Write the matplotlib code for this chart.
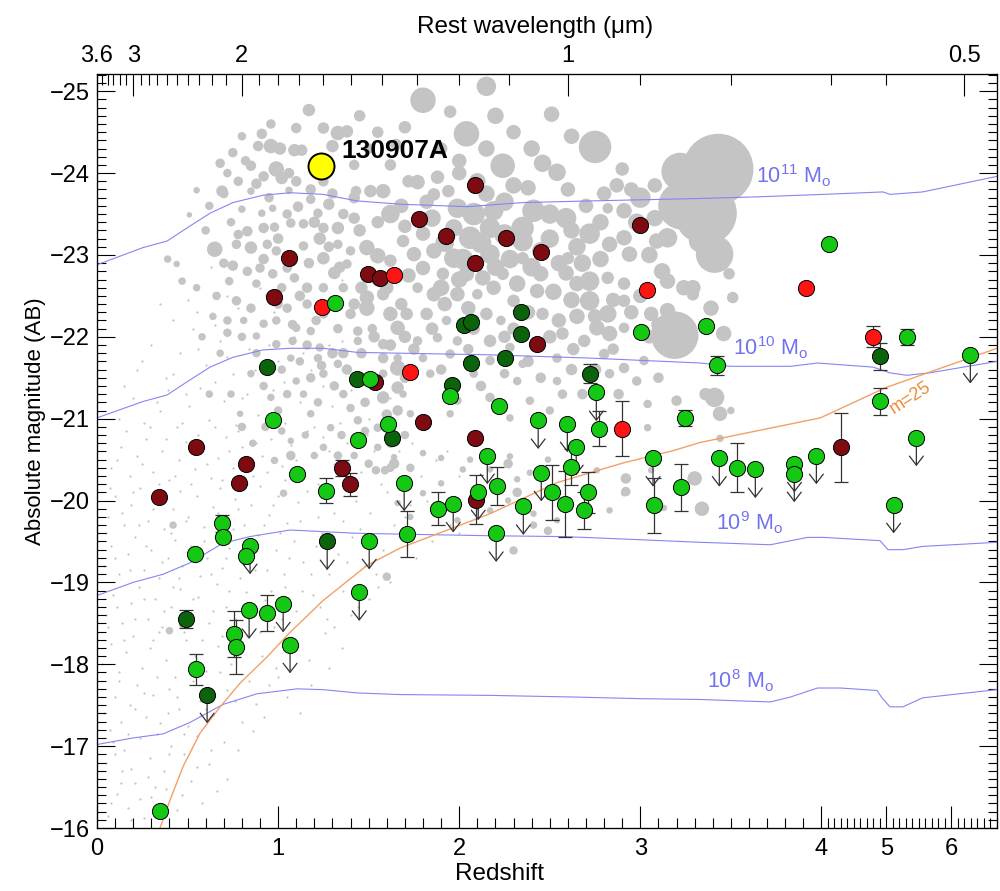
"""Absolute magnitude vs redshift of GRB hosts with the 130907A host highlighted."""
import numpy as np
import matplotlib
matplotlib.use("Agg")
import matplotlib.pyplot as plt
from matplotlib.ticker import FixedLocator, FixedFormatter, MultipleLocator, NullFormatter

plt.rcParams["font.family"] = ["Liberation Sans", "DejaVu Sans"]
plt.rcParams["mathtext.fontset"] = "custom"
plt.rcParams["mathtext.rm"] = "Liberation Sans"
plt.rcParams["mathtext.it"] = "Liberation Sans:italic"
plt.rcParams["mathtext.bf"] = "Liberation Sans:bold"
plt.rcParams["axes.unicode_minus"] = True

# ---------------------------------------------------------------- data
# GRB hosts: light green
g_z = [1.315, 1.508, 0.972, 1.608, 1.442, 1.950, 2.757, 2.221, 2.436, 2.597,
       2.773, 3.249, 2.646, 2.155, 3.070, 4.120, 3.006, 3.365, 3.425, 5.310,
       6.290, 4.900, 5.460, 3.436, 3.851, 3.972, 3.536, 3.635, 3.850, 5.110,
       1.105, 1.265, 1.696, 0.691, 0.696, 0.541, 0.845, 0.823, 1.503, 1.448,
       0.840, 0.939, 1.028, 0.757, 0.768, 1.066, 0.547, 0.348, 1.713, 1.884,
       1.967, 2.105, 2.210, 2.204, 2.354, 2.453, 2.514, 2.586, 2.619, 2.713,
       2.690, 3.077, 3.227]
g_mag = [-22.41, -21.49, -20.99, -20.94, -20.74, -21.28, -21.32, -21.15, -20.98, -20.94,
         -20.88, -21.01, -20.66, -20.55, -20.52, -23.13, -22.06, -22.13, -21.65, -22.00,
         -21.78, -21.21, -20.77, -20.52, -20.45, -20.55, -20.40, -20.38, -20.33, -19.95,
         -20.32, -20.12, -20.22, -19.72, -19.56, -19.35, -19.45, -19.32, -19.51, -18.88,
         -18.66, -18.63, -18.74, -18.37, -18.21, -18.24, -17.94, -16.21, -19.59, -19.90,
         -19.96, -20.11, -20.18, -19.60, -19.93, -20.34, -20.10, -19.96, -20.41, -20.10,
         -19.88, -19.94, -20.16]
g_err = [0, 0, 0, 0, 0, 0, 0, 0, 0, 0,
         0.21, 0.10, 0, 0, 0, 0, 0, 0, 0.12, 0.10,
         0, 0.17, 0, 0, 0, 0, 0.30, 0, 0, 0,
         0, 0.15, 0, 0.10, 0, 0, 0, 0, 0, 0,
         0, 0.22, 0, 0.28, 0.33, 0, 0.19, 0, 0.28, 0.20,
         0, 0, 0.23, 0, 0, 0, 0.34, 0.40, 0.22, 0.25,
         0.23, 0.34, 0.29]
g_lim = [0, 0, 0, 0, 0, 0, 1, 0, 1, 1,
         0, 0, 1, 1, 1, 0, 0, 0, 0, 0,
         1, 0, 1, 1, 1, 1, 0, 1, 1, 1,
         0, 0, 1, 0, 0, 0, 1, 0, 1, 1,
         1, 0, 1, 0, 0, 1, 0, 0, 0, 0,
         1, 1, 0, 1, 1, 1, 0, 0, 0, 0,
         0, 0, 0]

# GRB hosts: dark green
dg_z = [0.939, 1.436, 1.630, 2.343, 2.028, 2.066, 2.343, 2.066, 2.254, 2.724,
        1.961, 4.900, 1.271, 0.492, 0.608]
dg_mag = [-21.63, -21.49, -20.76, -22.30, -22.15, -22.18, -22.04, -21.68, -21.74, -21.55,
          -21.41, -21.76, -19.50, -18.55, -17.63]
dg_err = [0, 0, 0, 0, 0, 0, 0, 0, 0, 0.12, 0, 0.16, 0, 0.11, 0]
dg_lim = [0, 0, 0, 0, 0, 0, 0, 0, 0, 0, 0, 0, 1, 0, 1]

# GRB hosts: dark red
dr_z = [1.061, 1.497, 1.564, 0.978, 1.536, 0.547, 0.343, 0.823, 0.785, 1.354,
        1.398, 2.088, 1.779, 1.928, 2.260, 2.453, 2.088, 3.000, 2.431, 1.800,
        2.088, 2.094, 4.305]
dr_mag = [-22.96, -22.77, -22.72, -22.49, -21.45, -20.65, -20.04, -20.45, -20.22, -20.40,
          -20.20, -23.85, -23.44, -23.23, -23.21, -23.04, -22.90, -23.37, -21.91, -20.96,
          -20.77, -20.01, -20.65]
dr_err = [0, 0, 0, 0, 0, 0, 0, 0, 0, 0.10,
          0.14, 0, 0, 0, 0, 0, 0, 0, 0, 0,
          0, 0.30, 0.42]

# GRB hosts: red
r_z = [1.641, 1.243, 3.039, 1.729, 2.900, 3.917, 4.794]
r_mag = [-22.76, -22.37, -22.57, -21.57, -20.88, -22.60, -22.00]
r_err = [0, 0, 0, 0, 0.33, 0, 0.13]

grb_z = [1.238]
grb_mag = [-24.09]
grb_name = "130907A"

# field galaxies (z, M, symbol diameter in px)
field_bright = [
    (1.17, -24.77, 10), (0.91, -24.48, 8), (1.33, -24.49, 12), (1.38, -24.51, 10), (0.89, -24.33, 8),
    (0.96, -24.33, 12), (1.01, -24.30, 10), (1.09, -24.28, 10), (1.13, -24.28, 9), (1.30, -24.33, 10),
    (0.68, -24.12, 7), (0.85, -24.09, 8), (0.92, -23.96, 8), (0.99, -24.05, 13), (1.02, -23.94, 10),
    (0.55, -23.79, 4), (0.69, -23.78, 9), (0.85, -23.78, 5), (0.88, -23.87, 8), (1.06, -23.79, 5),
    (1.18, -23.68, 7), (1.28, -23.62, 9), (1.43, -23.78, 8), (1.51, -23.78, 10), (1.58, -23.78, 12),
    (1.62, -23.50, 16), (1.36, -23.50, 8), (0.51, -23.49, 3), (0.80, -23.56, 5), (0.91, -23.51, 5),
    (0.97, -23.57, 5), (1.11, -23.59, 8), (1.22, -23.51, 7), (0.83, -23.29, 8), (0.92, -23.33, 8),
    (0.98, -23.34, 7), (1.07, -23.39, 7), (1.14, -23.38, 7), (1.25, -23.33, 8), (1.33, -23.33, 10),
    (0.65, -23.07, 13), (0.39, -22.95, 5), (0.77, -23.13, 7), (0.85, -23.09, 10), (0.94, -23.13, 7),
    (0.99, -23.05, 7), (1.14, -23.11, 7), (1.23, -23.20, 10), (1.33, -23.13, 7), (1.40, -23.05, 7),
    (1.49, -23.09, 13), (1.55, -22.99, 13), (1.62, -22.93, 10), (0.44, -22.89, 4), (0.75, -22.87, 8),
    (0.83, -22.80, 7), (0.90, -22.84, 7), (0.97, -22.77, 7), (1.05, -22.84, 7), (1.17, -22.90, 8),
    (1.25, -22.96, 10), (1.31, -22.78, 10), (1.38, -22.89, 7), (0.47, -22.68, 5), (0.73, -22.68, 6),
    (0.88, -22.65, 6), (1.09, -22.72, 7), (1.16, -22.60, 8), (1.25, -22.60, 7), (1.36, -22.60, 7),
    (1.49, -22.48, 12), (1.58, -22.52, 10), (0.77, -22.44, 7), (0.85, -22.35, 7), (1.05, -22.35, 7),
    (1.16, -22.40, 7), (1.25, -22.28, 7), (1.40, -22.28, 8), (1.49, -22.35, 13), (1.62, -22.28, 12),
    (0.81, -22.20, 5), (0.92, -22.16, 6), (0.99, -22.20, 6), (1.10, -22.11, 6), (1.18, -22.07, 6),
    (1.33, -22.10, 7), (1.44, -22.07, 7), (1.52, -22.10, 7), (1.66, -22.11, 12), (0.88, -22.01, 5),
    (0.99, -21.91, 6), (1.08, -21.95, 6), (1.23, -21.87, 6), (1.44, -21.95, 6), (1.58, -21.91, 8),
    (1.07, -21.74, 5), (1.22, -21.74, 6), (1.33, -21.67, 6), (1.58, -21.74, 8), (1.66, -21.62, 13),
    (0.85, -21.55, 5), (1.10, -21.46, 5), (1.25, -21.55, 6), (1.58, -21.55, 6), (1.66, -21.38, 10),
    (0.96, -21.26, 5), (1.14, -21.30, 5), (1.36, -21.30, 6), (1.58, -21.26, 10), (1.40, -21.13, 6),
    (0.79, -21.06, 4), (1.18, -21.06, 5), (1.29, -20.89, 5), (1.44, -20.98, 6), (1.55, -20.89, 6),
    (1.66, -21.10, 8), (1.07, -20.73, 4), (1.25, -20.65, 5), (1.55, -20.65, 5),
    (0.72, -24.00, 6), (0.78, -23.90, 7), (0.74, -23.40, 6), (0.70, -22.90, 7), (0.66, -22.50, 6),
    (0.72, -22.20, 6), (0.68, -21.80, 5), (0.74, -21.30, 5), (0.80, -20.90, 6), (0.86, -20.70, 5),
    (0.93, -20.90, 6), (1.00, -21.10, 6), (0.95, -21.60, 7), (0.88, -21.80, 6), (0.80, -22.00, 6),
    (0.96, -22.50, 8), (1.02, -22.60, 7), (1.00, -23.20, 8), (1.05, -23.50, 7), (0.95, -23.70, 7),
    (1.10, -23.90, 8), (1.20, -24.10, 9), (1.25, -23.90, 8), (1.20, -23.40, 9), (1.28, -23.10, 8),
    (1.12, -22.50, 8), (1.21, -22.20, 7), (1.30, -22.40, 9), (1.30, -21.80, 8), (1.18, -21.50, 7),
    (1.05, -21.30, 6), (1.22, -21.20, 6), (1.31, -21.40, 7), (1.38, -21.60, 8), (1.46, -21.80, 8),
    (1.53, -22.00, 9), (1.46, -22.60, 10), (1.55, -22.70, 11), (1.45, -23.30, 10), (1.42, -23.70, 9),
    (1.55, -23.40, 10), (1.68, -23.60, 12), (1.72, -23.90, 10), (1.62, -24.10, 9), (1.50, -24.30, 8),
    (1.42, -24.10, 8), (1.60, -22.60, 11), (1.68, -22.40, 10), (1.70, -22.00, 10), (1.62, -21.90, 9),
    (1.70, -21.50, 8), (1.48, -21.20, 7), (1.35, -20.80, 6), (1.15, -20.80, 5), (1.42, -20.55, 5),
    (1.62, -20.70, 7), (1.70, -20.80, 6), (0.62, -21.30, 5), (0.58, -22.00, 5), (0.55, -22.60, 5),
    (0.60, -23.30, 6), (0.62, -23.60, 6), (0.75, -24.25, 7), (0.80, -24.45, 6),
    (0.70, -23.75, 7), (0.82, -24.15, 7), (0.78, -23.25, 7), (0.92, -22.95, 8), (1.00, -22.40, 7),
    (1.08, -22.15, 7), (1.16, -21.90, 7), (1.24, -21.65, 7), (1.36, -21.80, 8), (1.42, -22.40, 9),
    (1.34, -22.85, 9), (1.42, -23.45, 9), (1.30, -23.75, 8), (1.18, -23.80, 8), (1.06, -24.00, 8),
    (1.25, -24.55, 9), (1.10, -24.55, 8), (0.96, -24.60, 7), (1.45, -24.70, 9), (1.55, -24.50, 9),
    (1.65, -24.35, 9), (0.72, -22.05, 6), (0.64, -22.25, 5), (0.92, -21.40, 6), (1.02, -21.60, 6),
    (1.12, -21.70, 6), (1.02, -20.85, 5), (1.20, -20.55, 5), (1.33, -20.55, 6), (1.50, -20.45, 6),
    (1.48, -20.85, 6), (1.60, -21.05, 8), (1.62, -20.40, 6),
    (1.80, -24.89, 23), (2.15, -25.06, 17), (1.70, -24.56, 10), (2.04, -24.48, 23), (2.51, -24.72, 13),
    (2.75, -24.32, 30), (2.24, -24.09, 22), (2.46, -24.12, 15), (2.54, -24.01, 15), (1.77, -23.89, 12),
    (2.87, -23.85, 12), (1.86, -23.74, 10), (1.94, -23.78, 10), (1.99, -23.57, 17), (2.08, -23.50, 20),
    (2.19, -23.54, 17), (2.38, -23.82, 13), (2.41, -23.54, 20), (2.50, -23.50, 17), (2.59, -23.45, 18),
    (2.35, -23.33, 20), (1.97, -23.33, 15), (2.17, -23.33, 18), (2.06, -23.21, 20), (2.35, -23.17, 18),
    (1.80, -23.26, 12), (1.69, -23.17, 10), (1.75, -23.01, 12), (1.86, -23.05, 13), (1.97, -22.96, 17),
    (2.17, -23.01, 17), (2.35, -22.96, 10), (2.60, -22.96, 10), (2.72, -23.26, 18), (2.83, -23.13, 13),
    (2.91, -23.21, 13), (2.94, -23.01, 13), (2.82, -23.57, 8), (2.91, -23.54, 13), (3.00, -23.70, 18),
    (3.09, -23.17, 13), (3.15, -23.21, 17), (1.80, -22.84, 12), (1.91, -22.77, 10), (2.04, -22.77, 13),
    (2.13, -22.72, 13), (2.24, -22.77, 10), (2.45, -22.77, 13), (2.59, -22.78, 13), (2.72, -22.68, 17),
    (2.82, -22.72, 10), (2.91, -22.65, 10), (3.15, -22.68, 13), (3.24, -22.60, 13), (3.29, -22.52, 10),
    (1.77, -22.60, 8), (1.86, -22.52, 12), (1.99, -22.52, 12), (2.10, -22.52, 8), (2.19, -22.60, 12),
    (2.43, -22.56, 12), (2.30, -22.44, 10), (2.72, -22.44, 17), (2.82, -22.28, 15), (2.91, -22.44, 10),
    (3.06, -22.28, 12), (3.15, -22.32, 13), (3.22, -22.20, 8), (1.71, -22.28, 10), (1.82, -22.28, 10),
    (1.93, -22.20, 7), (2.15, -22.28, 10), (2.23, -22.20, 7), (2.46, -22.28, 10), (2.76, -22.11, 13),
    (2.83, -22.04, 13), (2.91, -22.11, 8), (1.77, -21.95, 7), (1.88, -21.99, 7), (1.99, -21.95, 7),
    (2.17, -21.95, 10), (2.28, -21.87, 7), (2.57, -22.04, 10), (2.69, -21.95, 10), (1.66, -21.74, 6),
    (1.80, -21.74, 6), (1.95, -21.79, 7), (2.17, -21.71, 7), (2.35, -21.67, 6), (2.54, -21.74, 7),
    (2.80, -21.79, 8), (2.91, -21.62, 8), (3.02, -21.71, 7), (1.84, -21.55, 6), (2.08, -21.55, 6),
    (2.32, -21.46, 6), (2.54, -21.46, 6), (2.83, -21.55, 7), (2.98, -21.46, 7), (1.69, -21.30, 5),
    (1.99, -21.22, 6), (2.17, -21.26, 7), (2.39, -21.22, 6), (2.57, -21.30, 7), (3.04, -21.18, 6),
    (3.20, -21.22, 8), (1.73, -21.06, 5), (1.95, -21.06, 5), (2.28, -21.01, 5), (2.50, -21.10, 6),
    (3.04, -20.89, 5),
    (1.85, -23.45, 15), (1.92, -23.15, 16), (2.02, -22.95, 18), (2.12, -23.15, 18), (2.25, -23.25, 18),
    (2.28, -22.95, 16), (2.40, -22.85, 16), (2.50, -23.20, 16), (2.65, -23.10, 15), (2.68, -22.90, 15),
    (2.78, -22.95, 14), (2.52, -22.55, 14), (2.62, -22.45, 14), (2.38, -22.30, 12), (2.55, -22.20, 12),
    (2.65, -22.25, 13), (2.05, -22.35, 12), (1.92, -22.40, 12), (2.30, -22.10, 10), (2.42, -21.90, 10),
    (2.63, -21.85, 10), (2.75, -21.60, 10), (2.05, -21.85, 8), (2.25, -21.55, 7), (2.45, -21.50, 8),
    (2.68, -21.30, 8), (2.88, -21.30, 8), (3.10, -21.50, 8), (3.05, -22.00, 11), (3.12, -22.80, 14),
    (3.05, -23.00, 14), (2.98, -23.40, 15), (2.70, -23.60, 12), (2.60, -23.80, 12), (2.30, -23.85, 14),
    (2.10, -23.90, 14), (2.00, -24.15, 12), (1.90, -24.30, 10), (2.30, -24.50, 12), (2.62, -24.45, 13),
    (2.90, -24.05, 11), (3.08, -23.85, 12), (2.20, -24.70, 14), (1.95, -24.75, 10),
    (1.72, -22.75, 12), (1.90, -22.60, 14), (2.00, -22.70, 14), (2.20, -22.85, 15), (2.32, -22.65, 14),
    (2.45, -23.05, 15), (2.55, -22.90, 14), (2.65, -22.65, 13), (2.85, -22.45, 12), (2.95, -22.30, 12),
    (2.75, -22.25, 12), (2.50, -22.00, 11), (2.25, -22.00, 10), (2.08, -22.10, 10), (1.85, -22.10, 10),
    (1.75, -21.85, 9), (1.90, -21.60, 8), (2.12, -21.40, 8), (2.38, -21.70, 9), (2.62, -21.60, 9),
    (2.85, -21.85, 9), (3.00, -22.50, 12), (3.10, -22.15, 12), (2.95, -23.80, 12), (2.80, -23.75, 12),
    (2.40, -24.30, 14), (2.15, -24.30, 14), (2.00, -24.00, 12), (1.88, -23.95, 11), (1.82, -23.65, 12),
    (1.70, -23.35, 11), (2.62, -23.30, 14), (2.78, -23.40, 14), (3.08, -23.45, 14), (2.25, -23.65, 16),
    (2.15, -23.75, 14),
    (3.43, -24.05, 68), (3.36, -23.51, 60), (3.23, -23.60, 45), (3.22, -24.02, 35), (3.41, -23.01, 35),
    (3.33, -23.17, 20), (3.19, -22.02, 45), (3.49, -22.77, 9), (3.51, -22.48, 9), (3.46, -22.04, 13),
    (3.39, -22.35, 13), (3.29, -22.60, 13), (3.41, -21.26, 17), (3.44, -21.06, 12), (3.36, -21.30, 10),
    (3.50, -21.10, 5), (3.44, -20.76, 5),
    (2.92, -20.27, 8), (2.92, -20.11, 7), (3.30, -20.27, 12), (3.34, -19.90, 12), (1.73, -20.40, 6),
    (2.27, -20.45, 7), (2.32, -20.10, 7), (2.49, -19.63, 6), (2.30, -19.39, 6), (2.41, -19.70, 5),
    (1.07, -20.55, 7), (0.98, -20.49, 5), (1.03, -20.09, 5), (0.42, -19.70, 5), (1.64, -20.45, 8),
    (1.59, -20.37, 6), (1.54, -20.37, 6), (1.60, -19.07, 6), (0.40, -18.41, 5), (0.47, -18.48, 4),
    (1.64, -20.53, 4), (1.80, -20.58, 4), (1.90, -20.52, 4), (2.02, -20.38, 4), (2.06, -20.50, 4),
    (2.17, -20.38, 4), (2.28, -20.54, 4), (2.32, -20.26, 4), (2.39, -20.34, 4), (2.49, -20.50, 4),
    (1.90, -20.21, 4), (1.80, -20.09, 4), (1.66, -19.97, 4), (1.73, -19.80, 4), (1.99, -19.76, 4),
    (2.17, -19.88, 4), (2.27, -20.00, 4), (2.41, -19.84, 4), (2.54, -19.76, 4), (2.76, -20.37, 4),
    (2.83, -19.88, 4), (2.91, -20.09, 4), (3.06, -20.37, 4), (3.13, -19.91, 4),
]

# faint field galaxies (z, M)
field_faint = [
    (0.06, -16.15), (0.11, -16.42), (0.17, -16.25), (0.21, -16.55), (0.26, -16.12), (0.30, -16.38),
    (0.38, -16.48), (0.44, -16.22), (0.52, -16.58), (0.58, -16.30), (0.66, -16.45), (0.14, -16.70),
    (0.05, -16.80), (0.09, -17.05), (0.15, -16.95), (0.19, -16.72), (0.24, -17.10), (0.29, -16.85),
    (0.33, -17.15), (0.37, -16.70), (0.41, -17.00), (0.48, -16.90), (0.55, -17.12), (0.62, -16.78),
    (0.70, -17.05), (0.78, -16.95), (0.86, -17.18),
    (0.08, -16.30), (0.13, -16.55), (0.19, -16.10), (0.24, -16.35), (0.28, -16.62), (0.34, -16.20),
    (0.40, -16.90), (0.47, -16.40), (0.55, -16.75), (0.63, -16.95), (0.72, -16.60), (0.10, -16.90),
    (0.32, -16.50),
    (0.04, -17.40), (0.10, -17.60), (0.13, -17.30), (0.18, -17.50), (0.22, -17.75), (0.27, -17.35),
    (0.31, -17.62), (0.35, -17.28), (0.40, -17.70), (0.45, -17.45), (0.50, -17.25), (0.57, -17.55),
    (0.64, -17.38), (0.72, -17.68), (0.80, -17.30), (0.88, -17.52), (0.95, -17.75), (1.05, -17.60),
    (1.12, -17.40),
    (0.07, -17.20), (0.12, -17.80), (0.17, -17.15), (0.21, -17.45), (0.26, -17.65), (0.33, -17.85),
    (0.39, -17.40), (0.44, -17.60), (0.48, -17.15), (0.53, -17.80), (0.60, -17.45), (0.68, -17.90),
    (0.76, -17.55), (0.84, -17.80), (0.92, -17.35), (1.00, -17.85), (1.18, -17.75), (1.28, -17.95),
    (0.03, -18.00), (0.08, -18.25), (0.12, -17.90), (0.16, -18.15), (0.20, -18.35), (0.25, -17.95),
    (0.29, -18.20), (0.34, -18.40), (0.38, -18.05), (0.43, -17.85), (0.49, -18.30), (0.54, -18.10),
    (0.60, -17.92), (0.67, -18.22), (0.74, -18.00), (0.83, -18.35), (0.91, -18.10), (0.99, -17.95),
    (1.08, -18.28), (1.17, -18.05), (1.26, -18.38), (1.35, -18.20),
    (0.06, -18.45), (0.11, -18.70), (0.15, -18.30), (0.21, -18.55), (0.26, -18.80), (0.31, -18.30),
    (0.37, -18.65), (0.42, -18.95), (0.48, -18.40), (0.53, -18.80), (0.58, -18.30), (0.64, -18.65),
    (0.69, -18.35), (0.73, -18.90), (0.79, -18.25), (0.85, -18.70), (0.90, -18.40), (0.96, -18.90),
    (1.02, -18.55), (1.07, -18.15), (1.13, -18.90), (1.23, -18.70), (1.31, -18.45), (1.40, -18.60),
    (1.50, -18.80), (1.62, -19.00),
    (0.05, -18.60), (0.09, -18.85), (0.14, -18.50), (0.19, -18.75), (0.23, -18.95), (0.28, -18.55),
    (0.32, -18.80), (0.36, -18.45), (0.41, -18.70), (0.46, -18.92), (0.51, -18.62), (0.56, -18.82),
    (0.62, -18.50), (0.66, -18.98), (0.71, -18.70), (0.77, -18.55), (0.82, -18.88), (0.87, -18.60),
    (0.93, -18.78), (0.98, -18.45), (1.04, -18.95), (1.10, -18.65), (1.19, -18.85), (1.27, -18.55),
    (1.36, -18.90), (1.44, -18.70), (1.55, -18.95),
    (0.04, -19.20), (0.08, -19.45), (0.12, -19.10), (0.17, -19.35), (0.21, -19.55), (0.26, -19.15),
    (0.30, -19.40), (0.34, -19.05), (0.39, -19.30), (0.43, -19.52), (0.47, -19.20), (0.52, -19.45),
    (0.57, -19.08), (0.61, -19.30), (0.65, -19.55), (0.69, -19.18), (0.73, -19.42), (0.79, -19.05),
    (0.84, -19.30), (0.89, -19.58), (0.94, -19.15), (0.99, -19.40), (1.03, -19.10), (1.09, -19.50),
    (1.14, -19.25), (1.21, -19.45), (1.28, -19.10), (1.33, -19.35), (1.41, -19.55), (1.48, -19.20),
    (1.58, -19.40), (1.67, -19.55), (1.76, -19.30),
    (0.05, -19.60), (0.10, -19.30), (0.14, -19.85), (0.18, -19.15), (0.23, -19.70), (0.27, -19.45),
    (0.31, -19.90), (0.36, -19.25), (0.41, -19.60), (0.45, -19.05), (0.49, -19.75), (0.54, -19.25),
    (0.59, -19.50), (0.63, -19.10), (0.67, -19.85), (0.71, -19.30), (0.75, -19.65), (0.78, -19.90),
    (0.82, -19.50), (0.87, -19.15), (0.92, -19.70), (0.97, -19.95), (1.01, -19.60), (1.06, -19.30),
    (1.12, -19.75), (1.18, -19.10), (1.24, -19.60), (1.31, -19.85), (1.38, -19.25), (1.45, -19.65),
    (1.54, -19.10), (1.64, -19.70), (1.73, -19.95), (1.85, -19.50), (2.00, -19.60),
    (0.06, -19.80), (0.10, -20.05), (0.15, -19.70), (0.19, -19.95), (0.24, -20.15), (0.28, -19.75),
    (0.33, -20.00), (0.37, -19.65), (0.42, -19.90), (0.46, -20.12), (0.50, -19.80), (0.55, -20.05),
    (0.59, -19.68), (0.64, -19.92), (0.68, -20.15), (0.72, -19.78), (0.76, -20.02), (0.81, -19.70),
    (0.85, -19.95), (0.90, -20.18), (0.95, -19.82), (1.00, -20.05), (1.05, -19.72), (1.11, -19.98),
    (1.16, -20.12), (1.22, -19.80), (1.29, -20.05), (1.36, -19.75), (1.43, -20.00), (1.51, -19.85),
    (1.60, -20.10), (1.70, -19.80), (1.82, -20.00), (1.95, -19.70), (2.10, -19.90),
    (0.07, -20.15), (0.11, -20.50), (0.16, -20.85), (0.20, -20.10), (0.25, -20.45), (0.29, -20.90),
    (0.34, -20.20), (0.38, -20.75), (0.43, -20.30), (0.47, -20.95), (0.52, -20.20), (0.56, -20.80),
    (0.61, -20.45), (0.65, -20.90), (0.69, -20.25), (0.73, -20.60), (0.78, -20.85), (0.83, -20.20),
    (0.88, -20.70), (0.94, -20.35), (0.99, -20.90), (1.04, -20.25), (1.10, -20.50), (1.16, -20.85),
    (1.22, -20.20), (1.28, -20.60), (1.34, -20.95), (1.41, -20.25), (1.49, -20.80), (1.57, -20.20),
    (1.67, -20.60), (1.79, -20.30), (1.93, -20.60),
    (0.08, -20.40), (0.13, -20.65), (0.18, -20.30), (0.22, -20.55), (0.27, -20.75), (0.31, -20.35),
    (0.36, -20.60), (0.40, -20.25), (0.45, -20.50), (0.49, -20.72), (0.54, -20.38), (0.58, -20.62),
    (0.63, -20.28), (0.67, -20.52), (0.71, -20.78), (0.75, -20.40), (0.80, -20.65), (0.86, -20.30),
    (0.91, -20.55), (0.96, -20.75), (1.02, -20.42), (1.07, -20.68), (1.13, -20.30), (1.19, -20.58),
    (1.25, -20.78), (1.31, -20.45), (1.38, -20.70), (1.46, -20.35), (1.53, -20.60), (1.63, -20.45),
    (1.74, -20.70), (1.87, -20.50), (2.00, -20.30),
    (0.12, -21.00), (0.20, -21.25), (0.26, -20.95), (0.33, -21.20), (0.39, -21.35), (0.44, -20.90),
    (0.51, -21.15), (0.57, -21.38), (0.62, -20.98), (0.70, -21.22), (0.77, -20.92), (0.83, -21.30),
    (0.89, -21.05), (0.97, -21.35), (1.04, -20.95), (1.12, -21.20), (1.20, -20.90), (1.30, -21.15),
    (1.40, -21.35), (1.50, -21.00), (1.62, -21.25),
    (0.15, -21.40), (0.25, -21.70), (0.35, -21.10), (0.42, -21.55), (0.49, -21.30), (0.56, -21.85),
    (0.65, -21.45), (0.72, -21.75), (0.80, -21.25), (0.87, -21.60), (0.95, -21.90), (1.03, -21.45),
    (1.14, -21.80), (1.25, -21.40), (1.35, -21.95), (0.42, -22.20), (0.50, -22.45), (0.65, -22.15),
    (0.78, -22.35), (0.98, -22.30),
    (0.22, -21.60), (0.30, -21.90), (0.38, -21.50), (0.46, -21.80), (0.53, -22.10), (0.60, -21.65),
    (0.68, -21.95), (0.75, -21.55), (0.84, -21.85), (0.92, -22.15), (1.00, -21.70), (1.09, -22.00),
    (1.18, -21.60), (1.28, -21.90), (1.38, -21.60),
    (0.35, -22.40), (0.45, -22.70), (0.55, -22.30), (0.63, -22.85), (0.72, -22.50), (0.90, -22.60),
    (1.10, -22.95), (1.35, -22.70),
]

# stellar-mass tracks
m11_z = [0.0, 0.254, 0.387, 0.497, 0.624, 0.751, 0.917, 1.066, 1.249, 1.436, 1.674, 2.044, 2.354,
         2.724, 3.331, 3.646, 4.03, 4.947, 5.053, 5.557, 6.70]
m11_mag = [-22.88, -23.09, -23.17, -23.33, -23.51, -23.64, -23.73, -23.76, -23.74, -23.66, -23.62,
           -23.59, -23.64, -23.66, -23.69, -23.71, -23.74, -23.77, -23.74, -23.77, -23.96]
m10_z = [0.0, 0.254, 0.387, 0.497, 0.624, 0.751, 0.917, 1.066, 1.249, 1.436, 1.674, 2.171, 2.724,
         3.331, 3.497, 3.829, 3.978, 4.794, 5.053, 5.313, 5.664, 6.70]
m10_mag = [-21.01, -21.21, -21.29, -21.45, -21.63, -21.75, -21.84, -21.86, -21.86, -21.81, -21.80,
           -21.78, -21.74, -21.68, -21.64, -21.64, -21.68, -21.63, -21.56, -21.53, -21.56, -21.70]
m9_z = [0.0, 0.199, 0.365, 0.514, 0.696, 0.845, 1.066, 1.249, 1.436, 1.674, 2.171, 2.575, 2.906,
        3.331, 3.718, 3.923, 4.03, 4.901, 5.023, 5.252, 5.557, 6.70]
m9_mag = [-18.84, -19.00, -19.10, -19.24, -19.48, -19.56, -19.64, -19.62, -19.60, -19.59, -19.57,
          -19.56, -19.53, -19.49, -19.46, -19.55, -19.55, -19.51, -19.40, -19.40, -19.44, -19.49]
m8_z = [0.0, 0.199, 0.365, 0.514, 0.696, 0.884, 1.105, 1.249, 1.436, 1.674, 2.171, 2.63, 3.0,
        3.331, 3.718, 3.829, 3.978, 4.29, 4.855, 4.931, 5.053, 5.252, 5.557, 6.70]
m8_mag = [-17.02, -17.10, -17.15, -17.29, -17.51, -17.64, -17.70, -17.69, -17.65, -17.63, -17.62,
          -17.60, -17.58, -17.57, -17.54, -17.60, -17.71, -17.71, -17.68, -17.59, -17.48, -17.48,
          -17.59, -17.69]
mass_labels = [r"10$^{\rm 11}$ M$_{\rm o}$", r"10$^{\rm 10}$ M$_{\rm o}$",
               r"10$^{\rm 9}$ M$_{\rm o}$", r"10$^{\rm 8}$ M$_{\rm o}$"]
mass_label_z = [3.64, 3.51, 3.42, 3.37]
mass_label_mag = [-23.87, -21.77, -19.64, -17.70]

# apparent magnitude m=25 limit
lim25_z = [0.348, 0.403, 0.475, 0.569, 0.680, 0.790, 0.939, 1.066, 1.249, 1.492, 1.674,
           2.171, 2.541, 2.906, 3.182, 3.331, 3.994, 4.99, 6.70]
lim25_mag = [-16.00, -16.34, -16.75, -17.16, -17.48, -17.77, -18.09, -18.39, -18.78, -19.21,
             -19.42, -19.84, -20.22, -20.46, -20.61, -20.71, -21.01, -21.38, -21.86]

# rest-frame wavelength ticks (um) for the 3.6 um band
wave_major = [3.6, 3.0, 2.0, 1.0, 0.5]
wave_major_labels = ["3.6", "3", "2", "1", "0.5"]
wave_minor = [3.5, 3.4, 3.3, 3.2, 3.1, 2.9, 2.8, 2.7, 2.6, 2.5, 2.4, 2.3, 2.2, 2.1,
              1.9, 1.8, 1.7, 1.6, 1.5, 1.4, 1.3, 1.2, 1.1, 0.9, 0.8, 0.7, 0.6]
band_um = 3.6

# ---------------------------------------------------------------- scale
Z_BREAK = 4.0
HIGH_Z_STRETCH = 0.359


def fwd(z):
    z = np.asarray(z, dtype=float)
    return np.where(z <= Z_BREAK, z, Z_BREAK + (z - Z_BREAK) * HIGH_Z_STRETCH)


def inv(u):
    u = np.asarray(u, dtype=float)
    return np.where(u <= Z_BREAK, u, Z_BREAK + (u - Z_BREAK) / HIGH_Z_STRETCH)


GRAY = "#c4c4c4"
BAR = "#333333"

fig = plt.figure(figsize=(10, 8.91), dpi=100)
ax = fig.add_axes([0.097, 0.0707, 0.900, 0.8462])
ax.set_xscale("function", functions=(fwd, inv))
ax.set_xlim(0, 6.70)
ax.set_ylim(-16, -25.21)

# field galaxies
fb = np.array(field_bright)
ax.scatter(fb[:, 0], fb[:, 1], s=(0.72 * (fb[:, 2] + 2.5)) ** 2, color=GRAY, linewidths=0, zorder=1)
ff = np.array(field_faint)
ax.scatter(ff[:, 0], ff[:, 1], s=2.6, color=GRAY, linewidths=0, zorder=1)

# mass tracks
for zz, mm in [(m11_z, m11_mag), (m10_z, m10_mag), (m9_z, m9_mag), (m8_z, m8_mag)]:
    ax.plot(zz, mm, color="#8585f5", lw=0.8, zorder=2)
for lab, zz, mm in zip(mass_labels, mass_label_z, mass_label_mag):
    ax.text(zz, mm, lab, color="#7272f0", fontsize=15.5, ha="left", va="baseline", zorder=2)

ax.plot(lim25_z, lim25_mag, color="#f2a066", lw=1.0, zorder=2)
ax.text(5.37, -21.26, "m=25", color="#ee8a35", fontsize=13, rotation=33,
        ha="center", va="center", zorder=2)


def draw_hosts(z, mag, err, lim, color):
    z = np.asarray(z, dtype=float)
    mag = np.asarray(mag, dtype=float)
    err = np.asarray(err, dtype=float)
    has_err = err > 0
    if has_err.any():
        ax.errorbar(z[has_err], mag[has_err], yerr=err[has_err], fmt="none", ecolor=BAR,
                    elinewidth=0.9, capsize=5, capthick=0.9, zorder=3)
    for zi, mi, li in zip(z, mag, lim):
        if li:
            ax.annotate("", xy=(zi, mi + 0.35), xytext=(zi, mi),
                        arrowprops=dict(arrowstyle="->,head_length=0.65,head_width=0.5",
                                        color=BAR, lw=0.9, shrinkA=0, shrinkB=0,
                                        mutation_scale=10),
                        zorder=3)
    ax.scatter(z, mag, s=135, color=color, edgecolors="black", linewidths=0.7, zorder=4)


draw_hosts(dr_z, dr_mag, dr_err, [0] * len(dr_z), "#7e0a12")
draw_hosts(r_z, r_mag, r_err, [0] * len(r_z), "#ff1414")
draw_hosts(dg_z, dg_mag, dg_err, dg_lim, "#0b640b")
draw_hosts(g_z, g_mag, g_err, g_lim, "#14c814")

ax.scatter(grb_z, grb_mag, s=(0.72 * 26) ** 2, color="#ffff00", edgecolors="black",
           linewidths=1.4, zorder=5)
ax.text(1.352, -24.19, grb_name, fontsize=19, fontweight="bold", ha="left", va="baseline",
        zorder=5)

# axes cosmetics
ax.xaxis.set_major_locator(FixedLocator([0, 1, 2, 3, 4, 5, 6]))
ax.xaxis.set_major_formatter(FixedFormatter(["0", "1", "2", "3", "4", "5", "6"]))
ax.xaxis.set_minor_locator(FixedLocator(np.round(np.arange(0, 6.71, 0.1), 2)))
ax.xaxis.set_minor_formatter(NullFormatter())
ax.yaxis.set_major_locator(MultipleLocator(1))
ax.yaxis.set_minor_locator(MultipleLocator(0.1))
ax.tick_params(axis="both", which="both", direction="in", top=False, right=True,
               labelsize=17, width=0.8)
ax.tick_params(axis="x", which="major", length=15.5, pad=7)
ax.tick_params(axis="x", which="minor", length=7)
ax.tick_params(axis="y", which="major", length=13, pad=5)
ax.tick_params(axis="y", which="minor", length=6.5)
ax.set_xlabel("Redshift", fontsize=17.5, labelpad=2)
ax.xaxis.label.set_x(0.447)
ax.set_ylabel("Absolute magnitude (AB)", fontsize=16, labelpad=3)
ax.yaxis.label.set_y(0.54)
for sp in ax.spines.values():
    sp.set_linewidth(0.9)
    sp.set_color("#222222")

top = ax.twiny()
top.set_xscale("function", functions=(fwd, inv))
top.set_xlim(ax.get_xlim())
top.xaxis.set_major_locator(FixedLocator(band_um / np.array(wave_major) - 1))
top.xaxis.set_major_formatter(FixedFormatter(wave_major_labels))
top.xaxis.set_minor_locator(FixedLocator(band_um / np.array(wave_minor) - 1))
top.xaxis.set_minor_formatter(NullFormatter())
top.tick_params(axis="x", which="both", direction="in", labelsize=17, width=0.8)
top.tick_params(axis="x", which="major", length=15.5, pad=5)
top.tick_params(axis="x", which="minor", length=8)
top.set_xlabel("Rest wavelength (\u03bcm)", fontsize=17.5, labelpad=9)
top.xaxis.label.set_x(0.487)

fig.savefig("out.png", dpi=100)
